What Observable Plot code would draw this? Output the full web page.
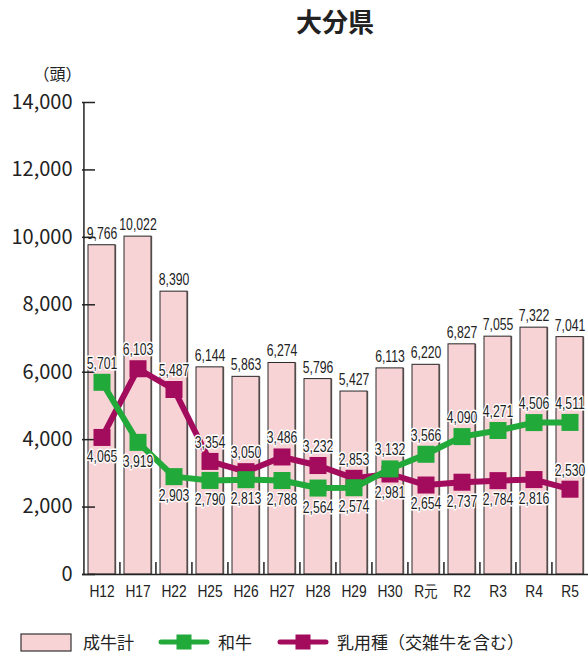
<!DOCTYPE html>
<html><head><meta charset="utf-8">
<script src="https://cdn.jsdelivr.net/npm/d3@7"></script>
<script src="https://cdn.jsdelivr.net/npm/@observablehq/plot@0.6"></script>
<style>
body{margin:0;background:#fff;}
#wrap{position:relative;width:588px;height:657px;overflow:hidden;font-family:"Noto Sans CJK JP","Noto Sans",sans-serif;color:#222;}
#title{position:absolute;left:82px;right:0;top:3px;text-align:center;font-size:26px;font-weight:bold;line-height:36px;}
#chart{position:absolute;left:0;top:0;}
.lt{position:absolute;top:631px;font-size:17px;line-height:22px;white-space:nowrap;}
.ls{position:absolute;}
.halo text{paint-order:stroke;stroke-linejoin:round;}
</style></head>
<body>
<div id="wrap">
  <div id="chart"></div>
  <div id="title">大分県</div>
  <div id="legend"></div>
</div>
<script>
const categories = ["H12","H17","H22","H25","H26","H27","H28","H29","H30","R元","R2","R3","R4","R5"];
const totalCattle = [9766,10022,8390,6144,5863,6274,5796,5427,6113,6220,6827,7055,7322,7041];
const wagyu = [5701,3919,2903,2790,2813,2788,2564,2574,3132,3566,4090,4271,4506,4511];
const dairy = [4065,6103,5487,3354,3050,3486,3232,2853,2981,2654,2737,2784,2816,2530];
const yTicks = [0,2000,4000,6000,8000,10000,12000,14000];
const seriesNames = ["成牛計","和牛","乳用種（交雑牛を含む）"];
const bothAbove = ["R5"];

const colTotal = "#f7d3d6", colWagyu = "#21a93a", colDairy = "#a30b5c";
const fmt = d3.format(",");
const labFont = "'Liberation Sans','Arimo',sans-serif";

const W = 588, H = 657, mL = 82, mR = 0, mT = 102, mB = 83;
const plotW = W - mL - mR, plotH = H - mT - mB;
const pIn = 0.26, pOut = 0.13;
const step = plotW / (categories.length - pIn + 2 * pOut);
const bw = step * (1 - pIn);

const totals = categories.map((c, i) => ({cat: c, v: totalCattle[i]}));
const mk = (arr, other) => categories.map((c, i) => ({cat: c, v: arr[i], above: arr[i] >= other[i] || bothAbove.includes(c)}));
const wRows = mk(wagyu, dairy);
const dRows = mk(dairy, wagyu);
const labRows = [...dRows, ...wRows];

const labelOpts = {x: "cat", y: "v", text: d => fmt(d.v), fontSize: 17, fontFamily: labFont, fill: "#222", stroke: "white", strokeWidth: 3, lineAnchor: "middle", className: "halo vlab"};

const chart = Plot.plot({
  width: W, height: H,
  marginLeft: mL, marginRight: mR, marginTop: mT, marginBottom: mB,
  style: {fontFamily: "'Noto Sans CJK JP','Noto Sans',sans-serif", color: "#222", background: "transparent"},
  x: {domain: categories, paddingInner: pIn, paddingOuter: pOut, label: null},
  y: {domain: [0, 14000], label: null},
  marks: [
    Plot.barY(totals, {x: "cat", y: "v", fill: "#7a6a6c", dx: 1.2}),
    Plot.barY(totals, {x: "cat", y: "v", fill: colTotal, stroke: "#2a2a2a", strokeWidth: 1}),
    Plot.text(totals, {x: "cat", y: "v", text: d => fmt(d.v), dy: -12, lineAnchor: "middle", fontSize: 17, fontFamily: labFont, fill: "#222", className: "vlab"}),
    Plot.tickX(categories.slice(1), {x: d => d, dx: -step / 2, insetTop: plotH - 12, stroke: "#222", strokeWidth: 1.5}),
    Plot.tickY(yTicks, {y: d => d, insetRight: plotW - 13, stroke: "#222", strokeWidth: 1.5}),
    Plot.ruleY([0], {stroke: "#222", strokeWidth: 1.5}),
    Plot.ruleX([categories[0]], {dx: -(pOut * step + bw / 2), stroke: "#222", strokeWidth: 1.5}),
    Plot.axisY({ticks: yTicks, tickSize: 0, tickPadding: 10, tickFormat: d => fmt(d), fontSize: 20, label: null}),
    Plot.axisX({tickSize: 0, tickPadding: 11, fontSize: 16, fontFamily: labFont, label: null, className: "xlab"}),
    Plot.text(["（頭）"], {frameAnchor: "top-left", dx: -25, dy: -28, fontSize: 16, textAnchor: "middle", lineAnchor: "middle"}),
    Plot.lineY(dRows, {x: "cat", y: "v", stroke: colDairy, strokeWidth: 6, strokeLinejoin: "round"}),
    Plot.dot(dRows, {x: "cat", y: "v", symbol: "square", r: 9.6, fill: colDairy, stroke: null}),
    Plot.lineY(wRows, {x: "cat", y: "v", stroke: colWagyu, strokeWidth: 6, strokeLinejoin: "round"}),
    Plot.dot(wRows, {x: "cat", y: "v", symbol: "square", r: 9.6, fill: colWagyu, stroke: null}),
    Plot.text(labRows.filter(d => d.above), {...labelOpts, dy: -19}),
    Plot.text(labRows.filter(d => !d.above), {...labelOpts, dy: 19})
  ]
});
document.getElementById("chart").appendChild(chart);

function condense(sel, k) {
  chart.querySelectorAll(sel).forEach(t => {
    const L = t.getComputedTextLength();
    t.setAttribute("textLength", (L * k).toFixed(2));
    t.setAttribute("lengthAdjust", "spacingAndGlyphs");
  });
}
condense(".vlab text", 0.72);
condense(".xlab text, g[aria-label='x-axis tick label'] text", 0.86);

// legend
const lg = document.getElementById("legend");
lg.innerHTML = `
<svg class="ls" style="left:20px;top:633px" width="53" height="20"><rect x="1" y="1" width="50" height="17" fill="${colTotal}" stroke="#333" stroke-width="1.2"/></svg>
<span class="lt" style="left:83px">${seriesNames[0]}</span>
<svg class="ls" style="left:156px;top:632px" width="56" height="20"><line x1="5" y1="10" x2="51" y2="10" stroke="${colWagyu}" stroke-width="5" stroke-linecap="round"/><rect x="20.5" y="2.5" width="15" height="15" fill="${colWagyu}"/></svg>
<span class="lt" style="left:218px">${seriesNames[1]}</span>
<svg class="ls" style="left:275px;top:632px" width="56" height="20"><line x1="5" y1="10" x2="51" y2="10" stroke="${colDairy}" stroke-width="5" stroke-linecap="round"/><rect x="20.5" y="2.5" width="15" height="15" fill="${colDairy}"/></svg>
<span class="lt" style="left:337px">${seriesNames[2]}</span>`;
</script>
</body></html>
